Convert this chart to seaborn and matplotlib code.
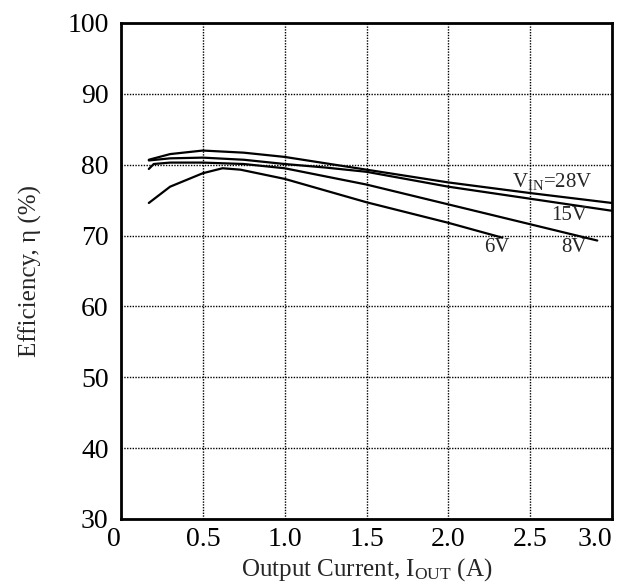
import matplotlib
matplotlib.use("Agg")
import matplotlib.pyplot as plt
import pandas as pd
import seaborn as sns

# efficiency curves (x: output current A, y: efficiency %)
x_28v = [0.17, 0.3, 0.5, 0.75, 1.0, 1.25, 1.5, 2.0, 2.5, 3.0]
y_28v = [80.7, 81.5, 82.0, 81.7, 81.1, 80.2, 79.3, 77.5, 76.0, 74.6]
x_15v = [0.17, 0.3, 0.5, 0.75, 1.0, 1.25, 1.5, 2.0, 2.5, 3.0]
y_15v = [80.6, 80.9, 81.0, 80.7, 80.1, 79.6, 79.0, 76.9, 75.2, 73.5]
x_8v = [0.17, 0.2, 0.3, 0.5, 0.75, 1.0, 1.5, 2.0, 2.5, 2.91]
y_8v = [79.4, 80.1, 80.3, 80.3, 80.1, 79.5, 77.2, 74.4, 71.6, 69.3]
x_6v = [0.17, 0.3, 0.5, 0.62, 0.73, 1.0, 1.5, 2.0, 2.33]
y_6v = [74.6, 76.9, 78.8, 79.5, 79.3, 78.0, 74.7, 71.8, 69.7]

x_ticks = [0, 0.5, 1.0, 1.5, 2.0, 2.5, 3.0]
x_tick_labels = ["0", "0.5", "1.0", "1.5", "2.0", "2.5", "3.0"]
y_ticks = [30, 40, 50, 60, 70, 80, 90, 100]

frames = []
for name, xs, ys in [("28V", x_28v, y_28v), ("15V", x_15v, y_15v),
                     ("8V", x_8v, y_8v), ("6V", x_6v, y_6v)]:
    frames.append(pd.DataFrame({"current": xs, "eff": ys, "vin": name}))
df = pd.concat(frames, ignore_index=True)

sns.set_style("white")
plt.rcParams["font.family"] = ["Liberation Serif", "DejaVu Serif"]
plt.rcParams["mathtext.fontset"] = "custom"
plt.rcParams["mathtext.rm"] = "Liberation Serif"

fig = plt.figure(figsize=(6.22, 5.87), dpi=100)
ax = fig.add_axes([121 / 622, 1 - 519 / 587, 491 / 622, 496 / 587])

sns.lineplot(data=df, x="current", y="eff", hue="vin", units="vin",
             estimator=None, sort=False, palette=["black"] * 4,
             linewidth=1.6, legend=False, ax=ax)

ax.set_xlim(0, 3.0)
ax.set_ylim(30, 100)
ax.set_xticks(x_ticks)
ax.set_xticklabels(x_tick_labels)
ax.set_yticks(y_ticks)
ax.tick_params(axis="both", length=0, labelsize=20, colors="black")
ax.tick_params(axis="x", pad=6)
ax.tick_params(axis="y", pad=9)
# keep the first and last x labels inside the figure, as in the original
xlabels = ax.get_xticklabels()
xlabels[0].set_horizontalalignment("right")
xlabels[-1].set_horizontalalignment("right")
ax.grid(True, color="black", linestyle=(0, (1, 1)), linewidth=1)

for s in ax.spines.values():
    s.set_color("black")
    s.set_linewidth(2)

ax.set_xlabel(r"Output Current, $\mathregular{I_{OUT}}$ (A)", fontsize=18, labelpad=3)
ax.set_ylabel(r"Efficiency, η (%)", fontsize=18, labelpad=18)

ax.text(2.39, 77.6, r"$\mathregular{V_{IN}}$=28V", fontsize=15, va="center", ha="left")
ax.text(2.63, 72.9, "15V", fontsize=15, va="center", ha="left")
ax.text(2.22, 68.3, "6V", fontsize=15, va="center", ha="left")
ax.text(2.69, 68.3, "8V", fontsize=15, va="center", ha="left")

fig.savefig("out.png", dpi=100)
